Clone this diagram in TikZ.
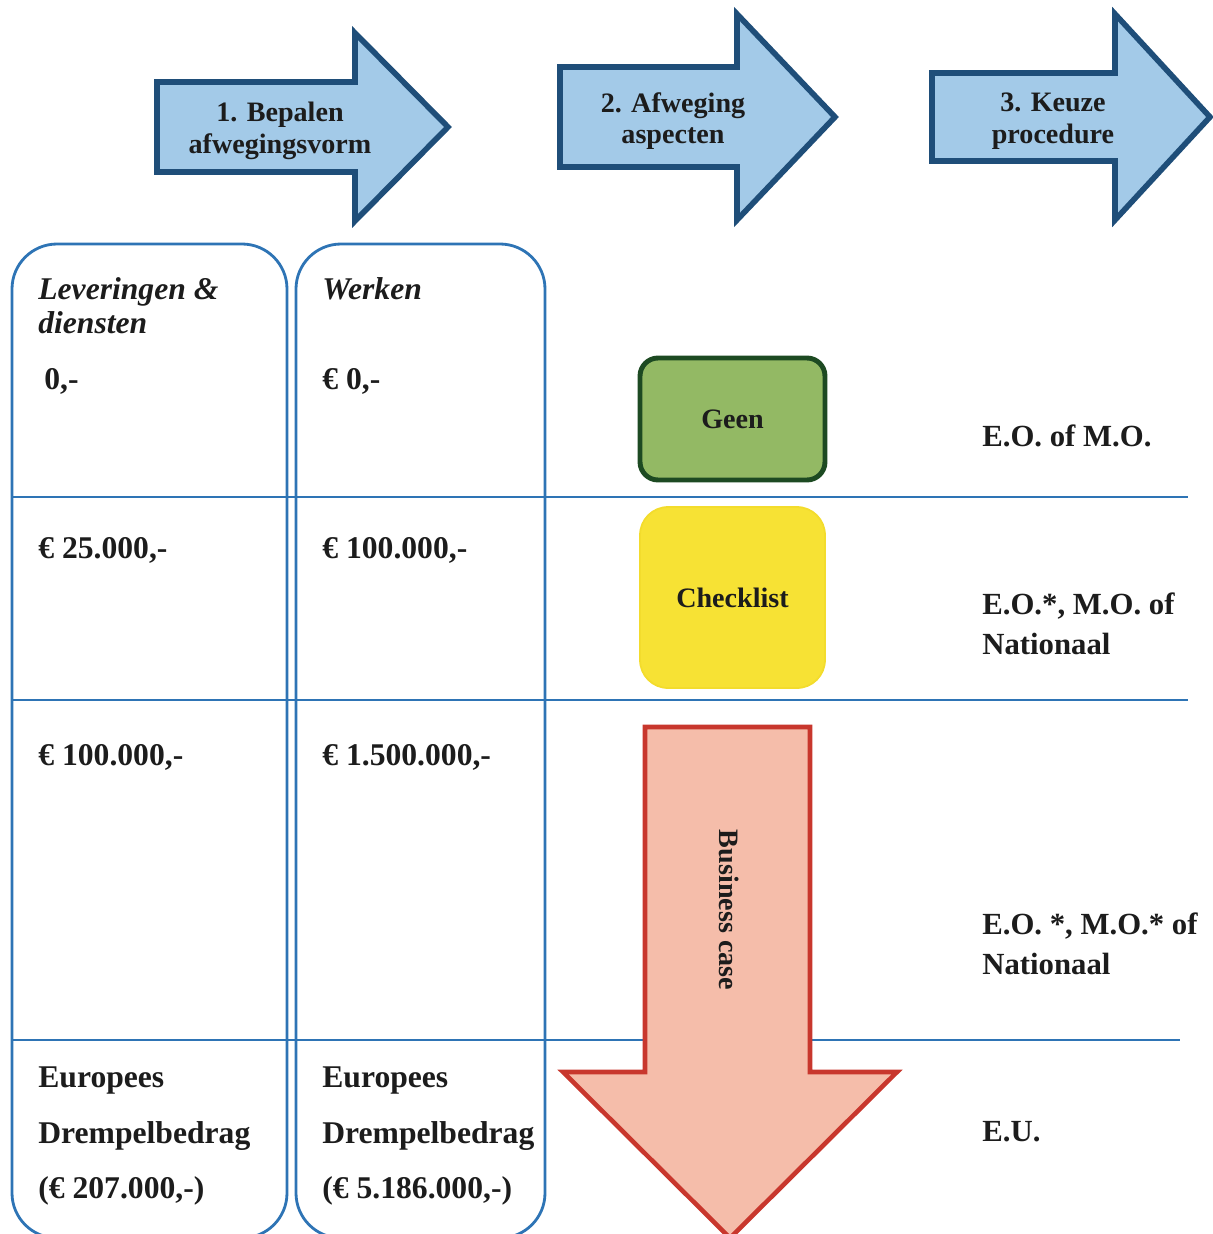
\documentclass[tikz,border=0pt]{standalone}
\usepackage{fontspec}
\setmainfont{Liberation Serif}
\usetikzlibrary{positioning}
\definecolor{ink}{HTML}{1C1C1C}
\definecolor{gridline}{HTML}{2E74B5}
\definecolor{stepfill}{HTML}{A3CAE8}
\definecolor{stepline}{HTML}{1F4E79}
\definecolor{geenfill}{HTML}{93B964}
\definecolor{geenline}{HTML}{1D4A22}
\definecolor{checkfill}{HTML}{F7E234}
\definecolor{checkline}{HTML}{F3DC2C}
\definecolor{bcfill}{HTML}{F5BDAA}
\definecolor{bcline}{HTML}{C8372D}
\tikzset{
  gridrule/.style={gridline, line width=1.6pt},
  coltxt/.style={anchor=west, font=\fontsize{18}{20}\selectfont\bfseries, text=ink, inner sep=0pt, align=left},
  steptxt/.style={font=\fontsize{16}{18}\selectfont\bfseries, text=ink, align=center, inner sep=0pt},
  routetxt/.style={anchor=west, font=\fontsize{17.5}{22.7}\selectfont\bfseries, text=ink, inner sep=0pt, align=left},
  gatebox/.style={minimum width=3.7cm, font=\fontsize{16}{18}\selectfont\bfseries, text=ink}
}
% #1 left x, #2 neck x, #3 tip x, #4 mid y, #5 body half height, #6 head half height
\newcommand{\steparrow}[6]{%
  \draw[stepline, fill=stepfill, line width=3.2pt, line join=miter]
    (#1,#4-#5) -- (#2,#4-#5) -- (#2,#4-#6) -- (#3,#4) -- (#2,#4+#6) -- (#2,#4+#5) -- (#1,#4+#5) -- cycle;}

\begin{document}
\begin{tikzpicture}[x=0.02cm,y=-0.02cm]
\useasboundingbox (0,0) rectangle (1213,1234);
\clip (0,0) rectangle (1213,1234);

% process steps
\steparrow{157}{355}{448}{127}{45}{94}
\steparrow{560}{737}{835}{117}{50}{103}
\steparrow{932}{1115}{1210}{117}{44}{103}
\node[steptxt] (step1) at (280,131) {1. Bepalen\\afwegingsvorm};
\node[steptxt] (step2) at (673,121) {2. Afweging\\aspecten};
\node[steptxt] (step3) at (1053,121) {3. Keuze\\procedure};

% columns and bands
\draw[gridrule, rounded corners=0.9cm] (12,244) rectangle (287,1238);
\draw[gridrule, rounded corners=0.9cm] (296,244) rectangle (545,1238);
\foreach \y/\x in {497/1188, 700/1188, 1040/1180}
  \draw[gridrule] (12,\y) -- (\x,\y);

% thresholds
\node[coltxt, font=\fontsize{18}{19.5}\selectfont\bfseries\itshape] (levhead) at (38,306) {Leveringen \&\\diensten};
\node[coltxt, font=\fontsize{18}{19.5}\selectfont\bfseries\itshape] (wrkhead) at (322,289) {Werken};
\node[coltxt] (lev0) at (44,381) {0,-};
\node[coltxt] (wrk0) at (322,381) {€ 0,-};
\foreach \y/\lev/\wrk [count=\r] in {550/{€ 25.000,-}/{€ 100.000,-},
                                     757/{€ 100.000,-}/{€ 1.500.000,-}} {
  \node[coltxt] (lev\r) at (38,\y) {\lev};
  \node[coltxt] (wrk\r) at (322,\y) {\wrk};
}
\node[coltxt, font=\fontsize{18}{31.8}\selectfont\bfseries] (leveu) at (38,1136) {Europees\\Drempelbedrag\\(€ 207.000,-)};
\node[coltxt, font=\fontsize{18}{31.8}\selectfont\bfseries] (wrkeu) at (322,1136) {Europees\\Drempelbedrag\\(€ 5.186.000,-)};

% weighing
\node[gatebox, draw=geenline, fill=geenfill, line width=2.8pt, rounded corners=0.36cm, minimum height=2.44cm] (geen) at (732.5,419) {Geen};
\node[gatebox, draw=checkline, fill=checkfill, line width=1pt, rounded corners=0.56cm, minimum height=3.62cm] (check) at (732.5,597.5) {Checklist};
\draw[bcline, fill=bcfill, line width=2.6pt, line join=miter]
  (645,727) -- (810,727) -- (810,1072) -- (897,1072) -- (730,1238) -- (563,1072) -- (645,1072) -- cycle;
\node[steptxt, rotate=-90] (bcase) at (729,910) {Business case};

% procedures
\node[routetxt] (eomo) at (982,436) {E.O. of M.O.};
\node[routetxt] (eonat) at (982,624) {E.O.*, M.O. of\\Nationaal};
\node[routetxt] (eomonat) at (982,944) {E.O. *, M.O.* of\\Nationaal};
\node[routetxt] (eu) at (982,1132) {E.U.};

\end{tikzpicture}
\end{document}
